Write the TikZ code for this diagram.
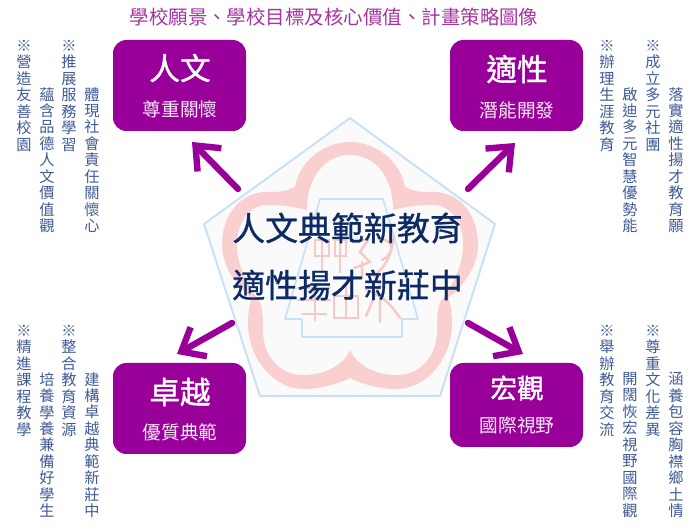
\documentclass[tikz,border=0pt]{standalone}
\usepackage{fontspec}
\usepackage{xcolor}
\setmainfont{Noto Sans CJK TC}
\newfontfamily\boldcjk[FakeBold=1.2]{Noto Sans CJK TC}
\newfontfamily\midcjk[FakeBold=0.9]{Noto Sans CJK TC}
\usetikzlibrary{arrows.meta}
\definecolor{boxpurple}{HTML}{990099}
\definecolor{titlepurple}{HTML}{A5359F}
\definecolor{sideblue}{HTML}{3F5A94}
\definecolor{mainblue}{HTML}{0B2A66}
\definecolor{flowerpink}{HTML}{F9CFCF}
\definecolor{pentblue}{HTML}{C9E1F6}
\definecolor{sealpink}{HTML}{F6C9C4}
\tikzset{
	boxnode/.style={fill=boxpurple, rounded corners=10pt, minimum width=99.75pt, inner sep=0pt},
	headtext/.style={text=white, inner sep=0pt, font=\boldcjk\fontsize{23}{23}\selectfont},
	subtext/.style={text=white!92!boxpurple, inner sep=0pt, font=\fontsize{14}{14}\selectfont},
	sidetext/.style={text=sideblue, inner sep=0pt, anchor=north, align=center, font=\fontsize{11.4}{12.35}\selectfont},
	bigarrow/.style={boxpurple, line width=4.8pt, line cap=round, -{Straight Barb[length=15pt,width=25pt,line width=4.8pt]}},
	maintext/.style={text=mainblue, inner sep=0pt, font=\midcjk\fontsize{24.7}{24.7}\selectfont}
}
\begin{document}
\begin{tikzpicture}[x=0.75pt,y=-0.75pt]
	\useasboundingbox (0,0) rectangle (700,530);
	% pentagon
	\draw[pentblue, line width=1.5pt, fill=black!2, line join=round] (350,118) -- (495,224) -- (440,396) -- (260,396) -- (204,224) -- cycle;
	% flower, outer edge
	\fill[flowerpink] (295,187) .. controls (300,160) and (325,142) .. (350,142)
		.. controls (375,142) and (400,160) .. (405,187)
		.. controls (415,192) and (422,192) .. (433,192)
		.. controls (460,192) and (478,215) .. (478,245)
		.. controls (478,265) and (465,285) .. (448,298)
		.. controls (451,305) and (452,315) .. (452,323)
		.. controls (452,360) and (425,389) .. (397,389)
		.. controls (378,389) and (360,383) .. (350,378)
		.. controls (340,383) and (322,389) .. (303,389)
		.. controls (275,389) and (248,360) .. (248,323)
		.. controls (248,315) and (249,305) .. (252,298)
		.. controls (235,285) and (222,265) .. (222,245)
		.. controls (222,215) and (240,192) .. (267,192)
		.. controls (278,192) and (285,192) .. (295,187) -- cycle;
	% flower, inner edge
	\fill[black!2] (307,210) .. controls (307,177) and (325,155) .. (350,155)
		.. controls (375,155) and (393,177) .. (393,210)
		.. controls (410,206) and (420,205) .. (433,205)
		.. controls (450,205) and (463,222) .. (463,245)
		.. controls (463,265) and (453,285) .. (440,302)
		.. controls (437,310) and (437,320) .. (437,330)
		.. controls (437,356) and (420,375) .. (397,375)
		.. controls (375,375) and (357,365) .. (350,350)
		.. controls (343,365) and (325,375) .. (303,375)
		.. controls (280,375) and (263,356) .. (263,330)
		.. controls (263,320) and (263,310) .. (260,302)
		.. controls (247,285) and (237,265) .. (237,245)
		.. controls (237,222) and (250,205) .. (267,205)
		.. controls (280,205) and (290,206) .. (307,210) -- cycle;
	% bell
	\draw[pentblue, line width=1.2pt, line join=round] (320,199) -- (383,199) -- (418,319) -- (402,319) -- (402,337) -- (302,337) -- (302,319) -- (285,319) -- cycle;
	% seal
	\begin{scope}[sealpink, line width=1.8pt, line cap=round]
		\draw (322,240) -- (322,272) (315,240) -- (315,256) -- (329,256) -- (329,240) -- cycle;
		\draw (335,240) -- (335,256) -- (346,256) -- (346,240) -- cycle (340,240) -- (340,272);
		\draw (355,240) -- (368,240) -- (360,252) -- (370,262) -- (354,268) (362,262) -- (362,278);
		\draw (378,238) .. controls (394,240) and (396,252) .. (382,260) (394,236) .. controls (392,256) and (384,268) .. (374,276);
		\draw (298,300) -- (330,300) (302,314) -- (326,314) (315,284) -- (315,320) (298,288) -- (330,288);
		\draw (334,296) -- (358,296) -- (358,318) -- (334,318) -- cycle (346,296) -- (346,318) (346,284) -- (346,296);
		\draw (366,290) .. controls (382,294) and (392,306) .. (400,318) (380,284) -- (366,316) (380,300) -- (380,322);
	\end{scope}
	% title
	\node[text=titlepurple, inner sep=0pt, font=\fontsize{14.6}{14.6}\selectfont] (title) at (334,17) {學校願景、學校目標及核心價值、計畫策略圖像};
	% center text
	\node[maintext] (mainone) at (347.5,228) {人文典範新教育};
	\node[maintext] (maintwo) at (347.5,285) {適性揚才新莊中};
	% boxes
	\node[boxnode, minimum height=68.25pt] (renwen) at (179.5,85.5) {};
	\node[boxnode, minimum height=68.25pt] (shixing) at (516.5,85.5) {};
	\node[boxnode, minimum height=68.25pt] (zhuoyue) at (179.5,408.5) {};
	\node[boxnode, minimum height=63pt] (hongguan) at (516.5,405) {};
	\node[headtext] (renwenhead) at (180,68) {人文};
	\node[subtext] (renwensub) at (180,109) {尊重關懷};
	\node[headtext] (shixinghead) at (517,69) {適性};
	\node[subtext] (shixingsub) at (517,110) {潛能開發};
	\node[headtext] (zhuoyuehead) at (180,392) {卓越};
	\node[subtext] (zhuoyuesub) at (180,432) {優質典範};
	\node[headtext, font=\boldcjk\fontsize{20}{20}\selectfont] (hongguanhead) at (517,388) {宏觀};
	\node[subtext] (hongguansub) at (517,425) {國際視野};
	% arrows
	\coordinate (tailone) at (238,189);
	\coordinate (tipone) at (192,142);
	\coordinate (tailtwo) at (468,189);
	\coordinate (tiptwo) at (515,143);
	\coordinate (tailthree) at (232,323);
	\coordinate (tipthree) at (177,354);
	\coordinate (tailfour) at (468,323);
	\coordinate (tipfour) at (523,354);
	\draw[bigarrow] (tailone) -- (tipone);
	\draw[bigarrow] (tailtwo) -- (tiptwo);
	\draw[bigarrow] (tailthree) -- (tipthree);
	\draw[bigarrow] (tailfour) -- (tipfour);
	% side columns, top left
	\node[sidetext] (tlone) at (24,40) {※\\營\\造\\友\\善\\校\\園};
	\node[sidetext] (tltwo) at (47,87) {蘊\\含\\品\\德\\人\\文\\價\\值\\觀};
	\node[sidetext] (tlthree) at (69,40) {※\\推\\展\\服\\務\\學\\習};
	\node[sidetext] (tlfour) at (92,87) {體\\現\\社\\會\\責\\任\\關\\懷\\心};
	% top right
	\node[sidetext] (trone) at (607,40) {※\\辦\\理\\生\\涯\\教\\育};
	\node[sidetext] (trtwo) at (630,87) {啟\\迪\\多\\元\\智\\慧\\優\\勢\\能};
	\node[sidetext] (trthree) at (653,40) {※\\成\\立\\多\\元\\社\\團};
	\node[sidetext] (trfour) at (676,87) {落\\實\\適\\性\\揚\\才\\教\\育\\願};
	% bottom left
	\node[sidetext] (blone) at (24,325) {※\\精\\進\\課\\程\\教\\學};
	\node[sidetext] (bltwo) at (47,372) {培\\養\\學\\養\\兼\\備\\好\\學\\生};
	\node[sidetext] (blthree) at (69,325) {※\\整\\合\\教\\育\\資\\源};
	\node[sidetext] (blfour) at (92,372) {建\\構\\卓\\越\\典\\範\\新\\莊\\中};
	% bottom right
	\node[sidetext] (brone) at (607,325) {※\\舉\\辦\\教\\育\\交\\流};
	\node[sidetext] (brtwo) at (630,372) {開\\闊\\恢\\宏\\視\\野\\國\\際\\觀};
	\node[sidetext] (brthree) at (653,325) {※\\尊\\重\\文\\化\\差\\異};
	\node[sidetext] (brfour) at (676,372) {涵\\養\\包\\容\\胸\\襟\\鄉\\土\\情};
\end{tikzpicture}
\end{document}
